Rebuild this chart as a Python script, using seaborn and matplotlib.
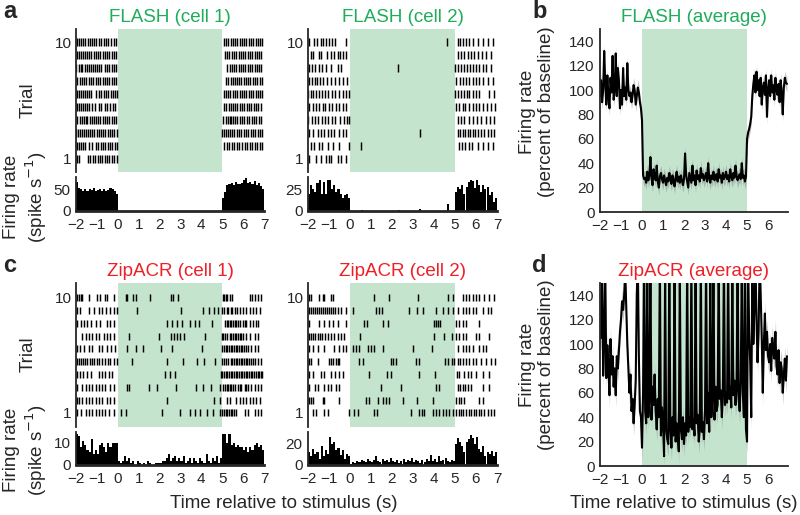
import numpy as np
import pandas as pd
import matplotlib
matplotlib.use("Agg")
import matplotlib.pyplot as plt
import seaborn as sns

# ---------------- raster spike times (s), trial 1 first ----------------
flash1_trials = [
    [-1.97, -1.88, -1.42, -1.31, -1.20, -1.08, -0.97, -0.86, -0.74, -0.62, -0.50, -0.40, -0.28, -0.17, -0.06],
    [-1.97, -1.87, -1.77, -1.67, -1.56, -1.40, -1.22, -1.05, -0.94, -0.82, -0.71, -0.60, -0.49, -0.37, -0.26, -0.14, -0.04,
     5.10, 5.21, 5.33, 5.45, 5.57, 5.69, 5.82, 5.95, 6.07, 6.19, 6.31, 6.43, 6.55, 6.67, 6.79, 6.91],
    [-1.98, -1.90, -1.81, -1.73, -1.62, -1.52, -1.43, -1.33, -1.22, -1.12, -1.01, -0.91, -0.80, -0.70, -0.59, -0.48, -0.38, -0.27, -0.16, -0.05,
     5.00, 5.08, 5.16, 5.27, 5.38, 5.48, 5.57, 5.69, 5.80, 5.92, 6.05, 6.14, 6.25, 6.36, 6.48, 6.59, 6.70, 6.82, 6.92],
    [-1.96, -1.82, -1.73, -1.63, -1.54, -1.45, -1.35, -1.25, -1.14, -1.04, -0.94, -0.83, -0.73, -0.62, -0.52, -0.41, -0.30, -0.20, -0.09,
     5.04, 5.16, 5.26, 5.35, 5.44, 5.53, 5.62, 5.73, 5.84, 5.95, 6.06, 6.18, 6.30, 6.41, 6.52, 6.63, 6.75, 6.86],
    [-1.97, -1.87, -1.78, -1.68, -1.58, -1.47, -1.38, -1.22, -1.08, -0.92, -0.78, -0.62, -0.50, -0.38, -0.25, -0.12,
     5.10, 5.20, 5.31, 5.41, 5.52, 5.62, 5.72, 5.83, 5.93, 6.06, 6.17, 6.28, 6.39, 6.50, 6.62, 6.73, 6.85],
    [-1.96, -1.86, -1.76, -1.66, -1.56, -1.46, -1.36, -1.26, -1.02, -0.90, -0.79, -0.67, -0.56, -0.45, -0.34, -0.23, -0.12, -0.03,
     5.08, 5.18, 5.29, 5.39, 5.50, 5.61, 5.72, 5.83, 5.94, 6.05, 6.16, 6.27, 6.38, 6.49, 6.60, 6.71, 6.82, 6.92],
    [-1.97, -1.83, -1.72, -1.62, -1.50, -1.40, -1.28, -1.18, -1.06, -0.95, -0.84, -0.72, -0.62, -0.50, -0.40, -0.29, -0.18, -0.07,
     5.20, 5.30, 5.40, 5.50, 5.61, 5.71, 5.81, 5.91, 6.02, 6.13, 6.24, 6.35, 6.46, 6.57, 6.68, 6.79, 6.90],
    [-1.98, -1.88, -1.78, -1.69, -1.59, -1.49, -1.39, -1.29, -1.19, -1.09, -0.99, -0.89, -0.79, -0.62, -0.50, -0.40, -0.30, -0.19, -0.08,
     5.22, 5.38, 5.48, 5.58, 5.68, 5.78, 5.89, 6.00, 6.11, 6.22, 6.33, 6.44, 6.55, 6.66, 6.77, 6.88],
    [-1.97, -1.87, -1.77, -1.67, -1.57, -1.47, -1.37, -1.26, -1.15, -1.05, -0.95, -0.84, -0.73, -0.62, -0.51, -0.40, -0.29, -0.18, -0.09,
     5.14, 5.24, 5.34, 5.45, 5.56, 5.67, 5.78, 5.89, 6.00, 6.11, 6.22, 6.33, 6.44, 6.55, 6.66, 6.77, 6.88],
    [-1.97, -1.86, -1.76, -1.65, -1.55, -1.44, -1.34, -1.23, -1.12, -1.02, -0.91, -0.80, -0.68, -0.56, -0.46, -0.32, -0.20, -0.08,
     5.10, 5.20, 5.30, 5.40, 5.50, 5.61, 5.72, 5.83, 5.94, 6.05, 6.16, 6.27, 6.38, 6.49, 6.60, 6.71, 6.82, 6.92],
]

flash2_trials = [
    [-1.94, -1.62, -1.38, -1.14, -1.02, -0.90, -0.59, -0.43, -0.19],
    [-1.86, -1.70, -1.46, -1.33, -1.06, -0.83, -0.51, -0.06, 0.52,
     5.17, 5.33, 5.49, 5.65, 5.81, 6.08, 6.32, 6.56, 6.79],
    [-1.94, -1.75, -1.54, -1.38, -1.22, -1.06, -0.90, -0.75, -0.51, -0.35, -0.19, 3.33,
     5.13, 5.24, 5.37, 5.49, 5.60, 5.71, 5.84, 5.97, 6.08, 6.24, 6.40, 6.56, 6.71, 6.87],
    [-1.98, -1.82, -1.67, -1.51, -1.35, -1.19, -1.04, -0.88, -0.73, -0.46, -0.30, -0.14, -0.05,
     5.13, 5.29, 5.44, 5.68, 5.84, 6.03, 6.24, 6.48, 6.67, 6.87],
    [-1.94, -1.78, -1.62, -1.46, -1.30, -1.17, -1.02, -0.86, -0.67, -0.51, -0.35, -0.19,
     5.05, 5.21, 5.37, 5.49, 5.68, 5.84, 6.00, 6.16, 6.32, 6.51, 6.71, 6.92],
    [-1.98, -1.86, -1.75, -1.62, -1.46, -1.33, -1.21, -1.05, -0.86, -0.70, -0.54, -0.35, -0.19, -0.06,
     5.00, 5.13, 5.29, 5.44, 5.56, 5.68, 5.84, 6.00, 6.16, 6.63, 6.87],
    [-1.94, -1.81, -1.68, -1.56, -1.43, -1.30, -1.11, -0.92, -0.73, -0.51, -0.32, -0.16,
     5.05, 5.24, 5.37, 5.52, 5.68, 5.84, 6.00, 6.16, 6.32, 6.56, 6.79],
    [-1.94, -1.81, -1.65, -1.49, -1.33, -1.14, -0.90, -0.59, -0.43, 2.30,
     5.00, 5.13, 5.29, 5.44, 5.57, 5.71, 5.84, 6.00, 6.16, 6.32, 6.48, 6.71],
    [-1.86, -1.75, -1.49, -1.38, -1.11, -0.90, -0.78, -0.59, -0.46, -0.32, -0.19,
     5.13, 5.29, 5.44, 5.60, 5.76, 5.92, 6.08, 6.27, 6.48, 6.71],
    [-1.94, -1.70, -1.59, -1.38, -1.27, -1.14, -1.02, -0.86, -0.70, -0.19, 4.60,
     5.13, 5.25, 5.40, 5.52, 5.68, 5.84, 6.08, 6.32, 6.56, 6.79],
]

zip1_trials = [
    [-1.97, -1.78, -1.54, -1.38, -1.22, -1.06, -0.90, -0.75, -0.59, -0.43, -0.19,
     0.14, 0.38, 2.13, 3.00, 3.45, 3.68, 3.96, 4.28, 4.57,
     4.89, 5.00, 5.08, 5.16, 5.24, 5.32, 5.40, 5.48, 5.56, 5.68, 6.08, 6.24, 6.56, 6.71, 6.87],
    [-1.97, -1.86, -1.70, -1.54, -1.38, -1.22, -1.06, -0.90, -0.75, -0.51, -0.35, -0.19,
     2.34, 4.63, 4.87,
     5.21, 5.37, 5.68, 5.84, 6.00, 6.16, 6.32, 6.48, 6.63, 6.79],
    [-1.97, -1.70, -1.54, -1.38, -1.22, -1.06, -0.90, -0.75, -0.59, -0.38, -0.19,
     0.46, 0.54, 1.49, 1.89, 2.77, 3.73, 4.09, 4.44, 4.89,
     5.05, 5.13, 5.21, 5.29, 5.37, 5.44, 5.52, 5.60, 5.76, 5.84, 5.92, 6.08, 6.16, 6.24, 6.40, 6.56, 6.71, 6.87],
    [-1.97, -1.81, -1.65, -1.49, -1.30, -0.90, -0.75, -0.59, -0.43, -0.27,
     2.24, 2.50, 2.74,
     4.92, 5.00, 5.09, 5.17, 5.24, 5.33, 5.40, 5.49, 5.56, 5.64, 5.73, 5.80, 5.89, 5.96, 6.05, 6.12, 6.21, 6.28, 6.37, 6.44, 6.53, 6.60, 6.69, 6.76, 6.85, 6.92],
    [-1.97, -1.88, -1.78, -1.68, -1.57, -1.46, -1.35, -1.24, -1.13, -1.00, -0.88, -0.75, -0.62, -0.48, -0.35, -0.20, -0.06,
     0.70, 2.34, 3.12, 3.80, 4.12, 4.65,
     4.97, 5.08, 5.20, 5.30, 5.40, 5.49, 5.57, 5.65, 5.73, 5.81, 5.89, 5.97, 6.05, 6.13, 6.21, 6.29, 6.37, 6.45, 6.56, 6.71, 6.87],
    [-1.97, -1.81, -1.62, -1.38, -1.22, -0.90, -0.75, -0.51, -0.32, -0.11,
     0.46, 0.85, 1.20, 2.08, 2.61, 4.04,
     5.00, 5.08, 5.17, 5.24, 5.33, 5.40, 5.49, 5.57, 5.65, 5.73, 5.81, 5.89, 5.97, 6.05, 6.13, 6.24, 6.40, 6.56, 6.71],
    [-1.70, -1.54, -1.38, -1.22, -1.06, -0.90, -0.67, -0.51, -0.35, -0.19,
     0.54, 1.97, 2.53, 2.69, 2.85, 3.00, 3.17, 4.16,
     4.97, 5.05, 5.13, 5.21, 5.37, 5.44, 5.52, 5.60, 5.68, 5.76, 5.84, 5.92, 6.00, 6.16, 6.32, 6.56, 6.71],
    [-1.94, -1.78, -1.62, -1.46, -1.27, -1.06, -0.86, -0.51, -0.35, -0.19,
     2.37, 2.61, 2.85, 3.09, 3.45, 3.68, 3.89, 4.52,
     5.13, 5.21, 5.29, 5.37, 5.44, 5.52, 5.60, 5.68, 5.76, 5.84, 6.00, 6.08, 6.16, 6.32, 6.48, 6.60, 6.71],
    [-1.94, -1.81, -1.38, -1.14, -0.90, -0.75, -0.54, -0.35, -0.19, -0.06,
     0.93, 3.02, 4.10, 4.35, 4.60, 4.78,
     5.00, 5.10, 5.21, 5.30, 5.40, 5.49, 5.60, 5.71, 5.84, 6.00, 6.16, 6.32, 6.48, 6.63, 6.79],
    [-1.94, -1.86, -1.78, -1.70, -1.38, -0.98, -0.86, -0.59, -0.51, -0.19,
     0.38, 0.46, 0.74, 0.85, 1.54, 2.56, 2.64, 2.88,
     5.02, 5.10, 5.17, 5.25, 5.37, 5.48, 6.32, 6.44, 6.56, 6.71, 6.87],
]

zip2_trials = [
    [-1.78, -1.62, -1.22, -1.06, -0.06,
     0.21, 0.40, 1.16, 1.30, 2.90, 3.30, 3.43, 3.54, 3.94, 4.10, 4.26, 4.41, 4.57, 4.73, 4.89,
     5.05, 5.17, 5.29, 5.40, 5.52, 5.65, 5.76, 5.89, 6.00, 6.13, 6.24, 6.40, 6.56, 6.71, 6.87],
    [-1.97, -1.86, -1.75, -1.30, -1.22, -0.51,
     0.76, 0.89, 1.32, 1.56, 1.71, 1.87, 2.51, 3.19, 3.94,
     5.05, 5.17, 5.29, 5.44, 6.16, 6.32],
    [-1.97, -1.65, -1.54, -1.22, -1.06, -0.90, -0.67, -0.51,
     1.48, 2.43, 4.10, 4.26,
     5.13, 5.24, 5.37, 5.49, 5.60, 5.76, 6.32, 6.60],
    [-1.94, -1.75, -1.38, -1.22, -0.90, -0.70, -0.51, -0.35,
     0.89, 1.75, 1.95, 3.27, 4.06,
     5.08, 5.21, 5.44, 5.60, 5.76, 6.00, 6.32, 6.60],
    [-1.97, -1.86, -1.54, -0.98, -0.90, -0.83, -0.67, -0.59, -0.51,
     0.44, 0.60, 1.95, 2.06, 2.19, 3.14, 3.30, 4.54, 4.65, 4.86, 4.97,
     5.13, 5.24, 5.37, 5.52, 5.68, 5.84, 6.00, 6.24, 6.48, 6.71, 6.92],
    [-1.94, -1.75, -1.54, -1.22, -0.78, -0.51, -0.35, -0.19,
     0.13, 0.29, 0.44, 0.84, 0.99, 1.16, 1.59, 3.02, 3.90,
     5.13, 5.37, 5.52, 5.68, 5.84, 6.16, 6.32, 6.48],
    [-1.97, -1.86, -1.75, -1.65, -1.54, -1.43, -1.33, -1.17, -1.06, -0.92, -0.75, -0.59, -0.43, -0.27,
     0.48, 4.02, 4.49, 4.86,
     5.05, 5.17, 5.37, 5.52, 6.00, 6.16, 6.60],
    [-1.97, -1.49, -1.22, -0.98, -0.83, -0.59, -0.19,
     0.68, 0.79, 1.59, 1.79, 4.02, 4.10, 4.18, 4.29,
     5.05, 5.21, 5.37, 5.52, 6.16],
    [-1.97, -1.87, -1.78, -1.68, -1.59, -1.49, -1.40, -1.30, -1.21, -1.11, -1.02, -0.92, -0.83, -0.70, -0.59, -0.43, -0.19,
     0.13, 1.24, 1.37, 1.52, 2.83, 3.17, 3.46, 4.10, 4.41, 4.65, 4.92,
     5.13, 5.37, 5.52, 5.68, 5.84, 6.00, 6.32, 6.56, 6.71],
    [-1.97, -1.86, -1.49, -1.30, -1.22, -0.90, -0.83,
     1.16, 1.87, 3.22, 4.65, 4.89,
     5.37, 5.52, 5.68, 5.84, 6.00, 6.16, 6.40, 6.63, 6.87],
]

# ---------------- PSTH firing rates (spike/s), 0.1 s bins from -2 to 7 ----------------
flash1_rate = [
    66, 52, 50, 47, 51, 45, 50, 48, 52, 46, 49, 51, 47, 50, 45, 48, 52, 50, 47, 40,
    0, 0, 0, 0, 0, 0, 0, 0, 0, 0, 0, 0, 0, 0, 0, 0, 0, 0, 0, 0, 0, 0, 0, 0, 0,
    0, 0, 0, 0, 0, 0, 0, 0, 0, 0, 0, 0, 0, 0, 0, 0, 0, 0, 0, 0, 0, 0, 0, 0, 0,
    30, 44, 59, 62, 64, 60, 66, 63, 61, 65, 70, 76, 64, 67, 62, 68, 60, 64, 58, 50,
]
flash2_rate = [
    20, 30, 25, 22, 32, 35, 20, 33, 20, 36, 35, 25, 30, 22, 25, 20, 15, 18, 20, 15,
    0, 0, 0, 0, 0, 1, 0, 0, 0, 0, 0, 0, 0, 0, 0, 0, 0, 0, 0, 0, 0, 0, 0, 1, 0,
    0, 0, 0, 0, 0, 0, 0, 0, 2, 0, 0, 0, 0, 0, 0, 0, 0, 0, 0, 0, 0, 8, 0, 0, 0,
    22, 28, 25, 30, 20, 28, 33, 35, 34, 26, 36, 30, 22, 30, 25, 28, 18, 22, 10, 15,
]
zip1_rate = [
    14, 13, 8, 11, 9, 7, 6, 12, 5, 7, 5, 9, 10, 8, 6, 10, 8, 10, 10, 10,
    2, 1, 2, 4, 2, 3, 1, 2, 0, 2, 1, 0, 1, 0, 2, 1, 0, 0, 1, 1, 1, 2, 2, 3, 5,
    2, 3, 4, 2, 3, 2, 4, 1, 2, 3, 1, 3, 2, 1, 3, 2, 1, 5, 2, 1, 3, 2, 4, 1, 3,
    14, 14, 10, 14, 9, 10, 8, 9, 8, 8, 7, 8, 6, 8, 7, 9, 10, 8, 9, 7,
]
zip2_rate = [
    12, 8, 15, 10, 12, 6, 18, 8, 14, 10, 26, 20, 22, 14, 16, 9, 14, 6, 10, 8,
    1, 3, 2, 4, 3, 5, 4, 3, 6, 4, 3, 5, 8, 4, 3, 6, 4, 5, 3, 7, 4, 3, 5, 2, 4,
    6, 3, 5, 4, 7, 3, 5, 4, 2, 5, 3, 6, 4, 9, 4, 6, 3, 8, 4, 5, 7, 4, 3, 5, 4,
    20, 25, 22, 18, 12, 22, 24, 28, 25, 20, 26, 15, 12, 18, 8, 12, 10, 13, 8, 12,
]

# ---------------- population averages (% of baseline), 0.05 s steps from -2 to 6.9 ----------------
flash_avg = [
    95, 108, 90, 100, 132, 105, 88, 112, 95, 85, 110, 98, 128, 92, 100, 130, 95, 118, 108, 85,
    100, 88, 118, 95, 102, 92, 122, 100, 95, 98, 90, 96, 104, 100, 88, 95, 102, 98, 90, 85,
    75, 30, 27, 28, 24, 33, 26, 30, 45, 28, 22, 35, 30, 26, 38, 25, 20, 29, 32, 27,
    24, 30, 26, 22, 28, 25, 32, 27, 23, 30, 26, 21, 28, 33, 25, 29, 24, 30, 26, 22,
    27, 48, 30, 25, 20, 32, 28, 24, 38, 26, 30, 22, 34, 27, 30, 25, 36, 28, 31, 26,
    29, 32, 25, 40, 28, 24, 30, 27, 33, 26, 29, 31, 25, 35, 28, 30, 24, 32, 27, 29,
    33, 27, 30, 25, 35, 29, 26, 32, 28, 38, 30, 26, 29, 31, 27, 40, 28, 30, 25, 29,
    60, 65, 68, 72, 78, 95, 105, 112, 98, 115, 100, 108, 95, 110, 88, 102, 106, 96, 112, 78,
    100, 108, 95, 112, 98, 104, 92, 110, 100, 96, 105, 90, 108, 98, 80, 102, 110, 106, 105,
]
zip_avg = [
    110, 105, 170, 74, 100, 165, 72, 99, 82, 58, 104, 75, 90, 65, 80, 58, 90, 80, 95, 110,
    120, 135, 128, 140, 160, 130, 100, 80, 60, 75, 45, 55, 35, 50, 70, 140, 170, 90, 45, 40,
    15, 60, 170, 45, 35, 160, 40, 55, 170, 38, 65, 50, 75, 45, 30, 55, 40, 170, 25, 48,
    35, 8, 160, 30, 22, 18, 170, 30, 15, 40, 25, 170, 20, 35, 28, 12, 160, 30, 22, 40,
    18, 35, 25, 170, 28, 40, 32, 170, 30, 38, 25, 160, 35, 42, 20, 30, 170, 28, 36, 22,
    45, 170, 35, 60, 28, 160, 40, 55, 170, 38, 65, 45, 50, 170, 55, 62, 40, 58, 170, 50,
    60, 52, 170, 55, 65, 48, 160, 58, 70, 50, 62, 170, 55, 45, 70, 160, 60, 40, 170, 30,
    20, 170, 110, 85, 40, 160, 100, 130, 170, 120, 85, 110, 170, 140, 105, 60, 100, 125, 95, 110,
    90, 85, 100, 78, 105, 95, 88, 110, 82, 75, 95, 68, 85, 80, 60, 75, 88, 70, 90,
]
flash_sem = 6
zip_sem = 10

bin_centres = np.linspace(-1.95, 6.95, 90)
avg_time = np.linspace(-2, 6.9, 179)

# ---------------- style ----------------
sns.set_style("ticks")
plt.rcParams["font.family"] = ["Liberation Sans", "DejaVu Sans"]
plt.rcParams["axes.linewidth"] = 1.3

GREEN = "#1fad5a"
RED = "#ee1f26"
SHADE = "#c4e4ce"
TICK_FS = 11
LABEL_FS = 13.5

fig = plt.figure(figsize=(8, 5.15), dpi=100)


def px(x0, y_top, x1, y_bot):
    # figure rectangle from pixel edges
    return [x0 / 800, 1 - y_bot / 515, (x1 - x0) / 800, (y_bot - y_top) / 515]


def raster(rect, trials, title, color, ylim):
    ax = fig.add_axes(rect)
    ax.axvspan(0, 5, color=SHADE, lw=0, zorder=0)
    ax.eventplot(trials, lineoffsets=np.arange(1, len(trials) + 1),
                 linelengths=0.55, linewidths=1.05, colors="black")
    ax.set_xlim(-2, 7)
    ax.set_ylim(*ylim)
    ax.set_yticks([1, 10])
    ax.set_xticks([])
    sns.despine(ax=ax, bottom=True)
    ax.tick_params(axis="y", length=0, pad=3, labelsize=TICK_FS)
    ax.set_title(title, color=color, fontsize=LABEL_FS, pad=5)
    return ax


def psth(rect, rates, ymax, ytick):
    ax = fig.add_axes(rect)
    df = pd.DataFrame({"t": bin_centres, "rate": rates})
    sns.histplot(data=df, x="t", weights="rate", binwidth=0.1, binrange=(-2, 7),
                 color="black", alpha=1, linewidth=0, ax=ax)
    ax.set_xlim(-2, 7)
    ax.set_ylim(0, ymax)
    ax.set_yticks([0, ytick])
    ax.set_xticks(range(-2, 8))
    ax.set_xlabel("")
    ax.set_ylabel("")
    sns.despine(ax=ax)
    ax.spines["bottom"].set_linewidth(2)
    ax.tick_params(length=0, labelsize=TICK_FS)
    ax.tick_params(axis="y", pad=4)
    ax.tick_params(axis="x", pad=5)
    return ax


def average(rect, values, sem, title, color):
    ax = fig.add_axes(rect)
    ax.axvspan(0, 5, color=SHADE, lw=0, zorder=0)
    vals = np.array(values, dtype=float)
    ax.fill_between(avg_time, vals - sem, vals + sem, color="0.5", alpha=0.45, lw=0)
    sns.lineplot(x=avg_time, y=vals, color="black", lw=1.5, ax=ax)
    ax.set_xlim(-2, 6.95)
    ax.set_ylim(0, 150)
    ax.set_yticks(range(0, 141, 20))
    ax.set_xticks(range(-2, 7))
    ax.set_xlabel("")
    ax.set_ylabel("")
    sns.despine(ax=ax)
    ax.tick_params(length=0, labelsize=TICK_FS)
    ax.tick_params(axis="y", pad=4)
    ax.tick_params(axis="x", pad=5)
    ax.set_title(title, color=color, fontsize=LABEL_FS, pad=5)
    return ax


# row 1: FLASH
raster(px(76, 29, 264, 172), flash1_trials, "FLASH (cell 1)", GREEN, (0, 11))
psth(px(76, 177, 264, 211), flash1_rate, 78, 50)
raster(px(308, 29, 497, 172), flash2_trials, "FLASH (cell 2)", GREEN, (0, 11))
psth(px(308, 177, 497, 211), flash2_rate, 39, 25)
average(px(600, 29, 788, 212), flash_avg, flash_sem, "FLASH (average)", GREEN)

# row 2: ZipACR
raster(px(76, 283, 264, 427), zip1_trials, "ZipACR (cell 1)", RED, (-0.1, 11.15))
psth(px(76, 432, 264, 465), zip1_rate, 15, 10)
raster(px(308, 283, 497, 427), zip2_trials, "ZipACR (cell 2)", RED, (-0.1, 11.15))
psth(px(308, 432, 497, 465), zip2_rate, 31, 20)
average(px(600, 283, 788, 466), zip_avg, zip_sem, "ZipACR (average)", RED)

# shared labels
for y_trial, y_rate in [(100, 197), (354, 450)]:
    fig.text(28 / 800, 1 - y_trial / 515, "Trial", rotation=90, ha="center", va="center", fontsize=LABEL_FS)
    fig.text(26 / 800, 1 - y_rate / 515, "Firing rate\n(spike s$^{-1}$)", rotation=90,
             ha="center", va="center", fontsize=LABEL_FS, linespacing=1.15)
for y_rate in [112, 365]:
    fig.text(537 / 800, 1 - y_rate / 515, "Firing rate\n(percent of baseline)", rotation=90,
             ha="center", va="center", fontsize=LABEL_FS, linespacing=1.15)

fig.text(284 / 800, 1 - 504 / 515, "Time relative to stimulus (s)", ha="center", va="center", fontsize=LABEL_FS)
fig.text(684 / 800, 1 - 504 / 515, "Time relative to stimulus (s)", ha="center", va="center", fontsize=LABEL_FS)

for letter, x, y in [("a", 3, 12), ("b", 532, 12), ("c", 3, 266), ("d", 532, 266)]:
    fig.text(x / 800, 1 - y / 515, letter, fontsize=17, fontweight="bold", ha="left", va="center",
             family=["Liberation Sans", "DejaVu Sans"])

fig.savefig("out.png", dpi=100)
